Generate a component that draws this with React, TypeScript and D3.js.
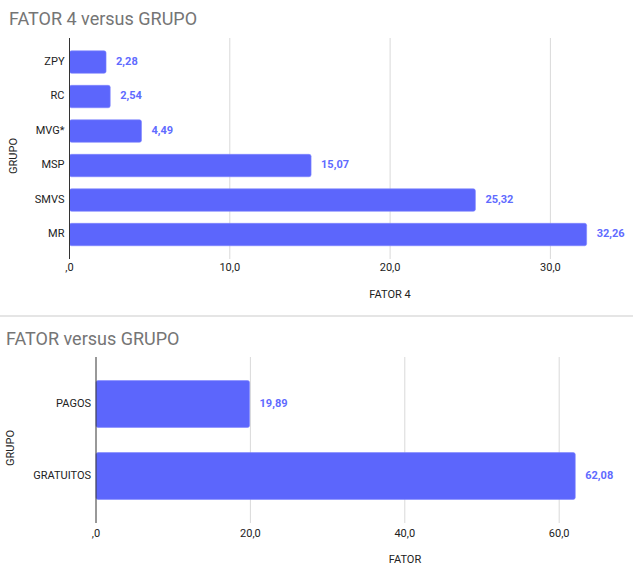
import React from "react";
import * as d3 from "d3";

// FATOR 4 por grupo
const grupos4 = ["ZPY", "RC", "MVG*", "MSP", "SMVS", "MR"];
const fator4 = [2.28, 2.54, 4.49, 15.07, 25.32, 32.26];
const ticks4 = [0, 10, 20, 30];

// FATOR por tipo de grupo
const gruposTipo = ["PAGOS", "GRATUITOS"];
const fatorTipo = [19.89, 62.08];
const ticksTipo = [0, 20, 40, 60];

const W = 633;
const H = 566;
const FONT = "Roboto, 'Liberation Sans', Arial, sans-serif";
const BAR = "#5c66fc";
const LABEL = "#5f6bff";
const GRID = "#d9d9d9";
const TEXT = "#222";
const TITLE = "#757575";

const fmtTick = (v: number) => (v === 0 ? ",0" : v.toFixed(1).replace(".", ","));
const fmtVal = (v: number) => v.toFixed(2).replace(".", ",");

type PanelProps = {
  title: string;
  titleX: number;
  titleY: number;
  cats: string[];
  vals: number[];
  ticks: number[];
  x0: number;
  pxPerUnit: number;
  top: number;
  bottom: number;
  bandRange: [number, number];
  padInner: number;
  tickY: number;
  xTitle: string;
  xTitleX: number;
  xTitleY: number;
  yTitleX: number;
  yTitleY: number;
};

function Panel(p: PanelProps) {
  const maxT = p.ticks[p.ticks.length - 1];
  const x = d3.scaleLinear().domain([0, maxT]).range([p.x0, p.x0 + maxT * p.pxPerUnit]);
  const y = d3
    .scaleBand<string>()
    .domain(p.cats)
    .range(p.bandRange)
    .paddingInner(p.padInner)
    .paddingOuter(p.padInner / 2);

  return (
    <g fontFamily={FONT}>
      <text x={p.titleX} y={p.titleY} fontSize={18} fill={TITLE}>
        {p.title}
      </text>
      {p.ticks.map((t) => (
        <g key={t}>
          {t !== 0 && (
            <line x1={x(t)} x2={x(t)} y1={p.top} y2={p.bottom} stroke={GRID} strokeWidth={1} />
          )}
          <text x={x(t)} y={p.tickY} fontSize={11} fill={TEXT} textAnchor="middle" dominantBaseline="middle">
            {fmtTick(t)}
          </text>
        </g>
      ))}
      {p.cats.map((c, i) => {
        const yy = y(c)!;
        const bh = y.bandwidth();
        return (
          <g key={c}>
            <rect
              x={x(0)}
              y={yy}
              width={x(p.vals[i]) - x(0)}
              height={bh}
              rx={2}
              fill={BAR}
              stroke="#7d85ff"
              strokeWidth={0.6}
            />
            <text
              x={x(0) - 5}
              y={yy + bh / 2}
              fontSize={11}
              fill={TEXT}
              textAnchor="end"
              dominantBaseline="middle"
            >
              {c}
            </text>
            <text
              x={x(p.vals[i]) + 10}
              y={yy + bh / 2}
              fontSize={11}
              fontWeight="bold"
              fill={LABEL}
              dominantBaseline="middle"
            >
              {fmtVal(p.vals[i])}
            </text>
          </g>
        );
      })}
      <line x1={x(0)} x2={x(0)} y1={p.top} y2={p.bottom} stroke="#333" strokeWidth={1} />
      <text x={p.xTitleX} y={p.xTitleY} fontSize={11} fill={TEXT} textAnchor="middle" dominantBaseline="middle">
        {p.xTitle}
      </text>
      <text
        transform={`translate(${p.yTitleX},${p.yTitleY}) rotate(-90)`}
        fontSize={11}
        fill={TEXT}
        textAnchor="middle"
        dominantBaseline="middle"
      >
        GRUPO
      </text>
    </g>
  );
}

export default function App() {
  return (
    <svg
      width={W}
      height={H}
      style={{ position: "absolute", left: 0, top: 0, background: "#fff" }}
    >
      <rect width={W} height={H} fill="#fff" />
      <Panel
        title="FATOR 4 versus GRUPO"
        titleX={9}
        titleY={25}
        cats={grupos4}
        vals={fator4}
        ticks={ticks4}
        x0={69.5}
        pxPerUnit={16.03}
        top={38}
        bottom={259}
        bandRange={[44.8, 251.8]}
        padInner={0.35}
        tickY={268}
        xTitle="FATOR 4"
        xTitleX={390}
        xTitleY={295}
        yTitleX={14}
        yTitleY={156}
      />
      <line x1={0} x2={W} y1={316} y2={316} stroke="#cccccc" strokeWidth={1.2} />
      <Panel
        title="FATOR versus GRUPO"
        titleX={6}
        titleY={345}
        cats={gruposTipo}
        vals={fatorTipo}
        ticks={ticksTipo}
        x0={96}
        pxPerUnit={7.72}
        top={357}
        bottom={523}
        bandRange={[368, 512]}
        padInner={0.35}
        tickY={534}
        xTitle="FATOR"
        xTitleX={405}
        xTitleY={560}
        yTitleX={11}
        yTitleY={448}
      />
    </svg>
  );
}
